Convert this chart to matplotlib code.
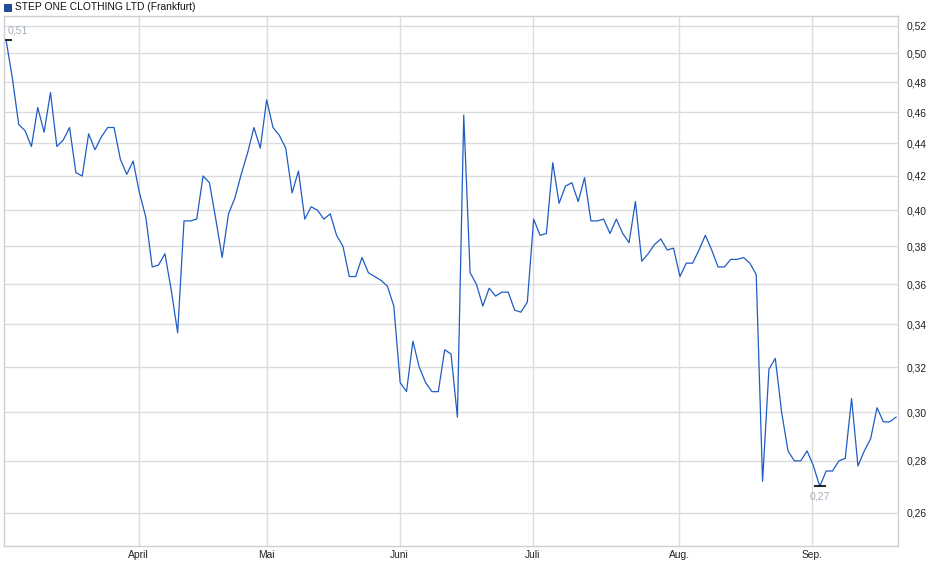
import matplotlib
matplotlib.use('Agg')
import matplotlib.pyplot as plt
from matplotlib.patches import Rectangle
from matplotlib.ticker import NullLocator, NullFormatter, FixedLocator

# Closing prices (EUR), one per trading day
prices = [0.510, 0.483, 0.452, 0.448, 0.438, 0.463, 0.447, 0.473, 0.438, 0.442,
          0.450, 0.422, 0.420, 0.446, 0.436, 0.444, 0.450, 0.450, 0.430, 0.421,
          0.429, 0.410, 0.396, 0.369, 0.370, 0.376, 0.357, 0.336, 0.394, 0.394,
          0.395, 0.420, 0.416, 0.395, 0.374, 0.398, 0.407, 0.421, 0.434, 0.450,
          0.437, 0.468, 0.450, 0.445, 0.437, 0.410, 0.423, 0.395, 0.402, 0.400,
          0.395, 0.398, 0.386, 0.380, 0.364, 0.364, 0.374, 0.366, 0.364, 0.362,
          0.359, 0.349, 0.313, 0.309, 0.332, 0.320, 0.313, 0.309, 0.309, 0.328,
          0.326, 0.298, 0.458, 0.366, 0.360, 0.349, 0.358, 0.354, 0.356, 0.356,
          0.347, 0.346, 0.351, 0.395, 0.386, 0.387, 0.428, 0.404, 0.414, 0.416,
          0.405, 0.419, 0.394, 0.394, 0.395, 0.387, 0.395, 0.387, 0.382, 0.405,
          0.372, 0.376, 0.381, 0.384, 0.378, 0.379, 0.364, 0.371, 0.371, 0.378,
          0.386, 0.378, 0.369, 0.369, 0.373, 0.373, 0.374, 0.371, 0.365, 0.272,
          0.319, 0.324, 0.300, 0.284, 0.280, 0.280, 0.284, 0.278, 0.270, 0.276,
          0.276, 0.280, 0.281, 0.306, 0.278, 0.284, 0.289, 0.302, 0.296, 0.296,
          0.298]

# month starts (in trading-day index) and labels
month_pos = [20.9, 41.0, 61.9, 82.9, 105.9, 126.8]
month_labels = ['April', 'Mai', 'Juni', 'Juli', 'Aug.', 'Sep.']

y_ticks = [0.26, 0.28, 0.30, 0.32, 0.34, 0.36, 0.38, 0.40, 0.42, 0.44, 0.46, 0.48, 0.50, 0.52]
y_labels = [('%.2f' % v).replace('.', ',') for v in y_ticks]

title = 'STEP ONE CLOTHING LTD (Frankfurt)'

plt.rcParams['font.family'] = ['Liberation Sans', 'DejaVu Sans']

fig = plt.figure(figsize=(9.4, 5.79), dpi=100)
W, H = 940, 579
ax = fig.add_axes([4 / W, 1 - 545.6 / H, (898 - 4) / W, (545.6 - 16) / H])

x = list(range(len(prices)))
ax.plot(x, prices, color='#1f5cc4', lw=0.9)

ax.set_yscale('log')
ax.set_ylim(0.2482, 0.5274)
ax.set_xlim(-0.31, 140.3)

ax.yaxis.set_major_locator(FixedLocator(y_ticks))
ax.yaxis.set_minor_locator(NullLocator())
ax.yaxis.set_minor_formatter(NullFormatter())
ax.set_yticklabels(y_labels)
ax.yaxis.tick_right()

ax.set_xticks(month_pos)
ax.set_xticklabels(month_labels)

ax.tick_params(axis='both', length=0, labelsize=7.4, colors='#222222')
ax.tick_params(axis='y', pad=6)
ax.tick_params(axis='x', pad=3)

ax.grid(True, color='#dcdcdc', lw=1)
ax.set_axisbelow(True)
for s in ax.spines.values():
    s.set_color('#cfcfcf')
    s.set_linewidth(1)

# high / low markers
i_max = prices.index(max(prices))
i_min = prices.index(min(prices))
ax.plot([i_max], [prices[i_max]], marker='_', ms=9, mew=1.2, color='black')
ax.plot([i_min], [prices[i_min]], marker='_', ms=9, mew=1.2, color='black')
ax.annotate(('%.2f' % prices[i_max]).replace('.', ','), (i_max, prices[i_max]),
            xytext=(2, 4), textcoords='offset pixels', ha='left', va='bottom',
            fontsize=7.6, color='#a4aebe')
ax.annotate(('%.2f' % prices[i_min]).replace('.', ','), (i_min, prices[i_min]),
            xytext=(0, -5), textcoords='offset pixels', ha='center', va='top',
            fontsize=7.6, color='#a4aebe')

# legend-like title
fig.add_artist(Rectangle((4 / W, 1 - 11 / H), 7 / W, 7 / H, transform=fig.transFigure,
                         fc='#1f4fa8', ec='#1a2f6a', lw=0.6))
fig.text(15 / W, 1 - 7 / H, title, va='center', ha='left', fontsize=7.4, color='#111111')

fig.savefig('out.png', dpi=100)
